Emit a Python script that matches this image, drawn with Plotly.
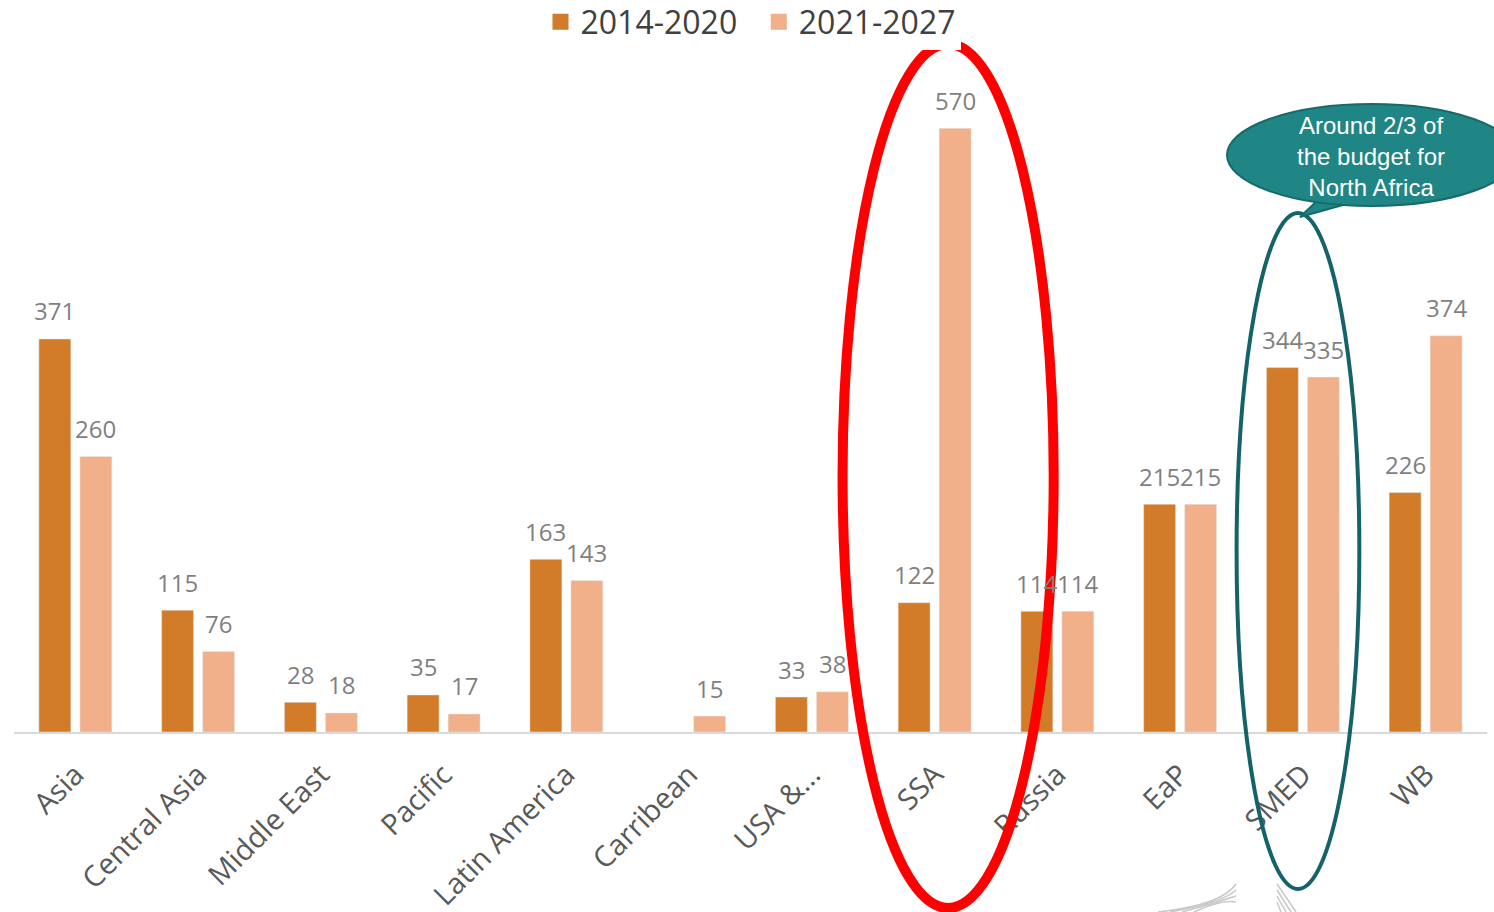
import plotly.graph_objects as go

categories = ["Asia", "Central Asia", "Middle East", "Pacific", "Latin America", "Carribean",
              "USA &...", "SSA", "Russia", "EaP", "SMED", "WB"]
series_2014_2020 = [371, 115, 28, 35, 163, None, 33, 122, 114, 215, 344, 226]
series_2021_2027 = [260, 76, 18, 17, 143, 15, 38, 570, 114, 215, 335, 374]
series_names = ["2014-2020", "2021-2027"]
colors = ["#D27B28", "#F1AF8A"]

W, H = 1494, 912
ML, MR, MT, MB = 14, 7, 54, 180
PW = W - ML - MR
PH = H - MT - MB
BARGAP, GROUPGAP = 0.332, 0.22


def px(x):
    return (x - ML) / PW


def py(y):
    return (H - MB - y) / PH


fig = go.Figure()
for name, vals, col in zip(series_names, [series_2014_2020, series_2021_2027], colors):
    fig.add_trace(go.Bar(
        x=categories, y=vals, name=name, marker_color=col, showlegend=False,
    ))
# legend entries with square markers
legend_labels = ["2014-2020\u00a0\u00a0", "2021-2027"]
for name, col in zip(legend_labels, colors):
    fig.add_trace(go.Scatter(
        x=[None], y=[None], mode="markers", name=name,
        marker=dict(symbol="square", size=20, color=col),
    ))

# value labels above each bar, placed at the bar's own category position
slot = (1 - BARGAP) / 2
annotations = []
for k, vals in enumerate([series_2014_2020, series_2021_2027]):
    off = (k - 0.5) * slot
    for i, v in enumerate(vals):
        if v is None:
            continue
        annotations.append(dict(
            xref="x", yref="y", x=i + off, y=v, text=str(v), showarrow=False,
            xanchor="center", yanchor="middle", yshift=28,
            font=dict(family="Open Sans", size=24, color="#7F7F7F"),
        ))

annotations.append(dict(
    xref="paper", yref="paper", x=px(1371), y=py(156), showarrow=False,
    text="Around 2/3 of<br>the budget for<br>North Africa",
    font=dict(family="Liberation Sans, Arial", size=24, color="white"),
    align="center", xanchor="center", yanchor="middle"))

shapes = [
    # red ellipse around SSA
    dict(type="circle", xref="x", yref="paper", x0=6.25, x1=7.97, y0=py(908), y1=py(44),
         line=dict(color="#FF0000", width=10), layer="above"),
    # teal ellipse around SMED
    dict(type="circle", xref="x", yref="paper", x0=9.46, x1=10.46, y0=py(889), y1=py(213),
         line=dict(color="#15636A", width=4), layer="above"),
    # callout tail
    dict(type="path", xref="paper", yref="paper",
         path=f"M {px(1318)} {py(200)} L {px(1300)} {py(217)} L {px(1350)} {py(203)} Z",
         fillcolor="#1F8585", line=dict(color="#176A6A", width=2), layer="above"),
    # callout bubble
    dict(type="circle", xref="paper", yref="paper", x0=px(1227), x1=px(1516), y0=py(206), y1=py(104),
         fillcolor="#1F8585", line=dict(color="#176A6A", width=2), layer="above"),
]

# faint grey decorative strokes at the bottom edge
for d in range(4):
    shapes.append(dict(
        type="path", xref="paper", yref="paper",
        path=(f"M {px(1158 + d * 12)} {py(912)} Q {px(1222)} {py(905 - d * 2)} "
              f"{px(1236)} {py(884 + d * 6)}"),
        line=dict(color="#C8C8C8", width=1.5), layer="above"))
    shapes.append(dict(
        type="path", xref="paper", yref="paper",
        path=f"M {px(1277)} {py(884 + d * 6)} L {px(1296 - d * 5)} {py(912)}",
        line=dict(color="#C8C8C8", width=1.5), layer="above"))

fig.update_layout(
    width=W, height=H,
    margin=dict(l=ML, r=MR, t=MT, b=MB, autoexpand=False),
    paper_bgcolor="white", plot_bgcolor="white",
    barmode="group", bargap=BARGAP, bargroupgap=GROUPGAP,
    showlegend=True,
    legend=dict(orientation="h", x=0.5, xanchor="center", yref="container",
                y=1 - 22 / H, yanchor="middle",
                font=dict(family="Open Sans", size=32, color="#404040"),
                itemwidth=30, traceorder="normal", itemsizing="trace"),
    xaxis=dict(tickangle=-45, tickfont=dict(family="Open Sans", size=29, color="#595959"),
               showline=True, linecolor="#D9D9D9", linewidth=2, ticks="", showgrid=False,
               automargin=False, ticklabelstandoff=12, range=[-0.5, 11.5]),
    yaxis=dict(range=[0, 640], visible=False, showgrid=False, zeroline=False),
    shapes=shapes, annotations=annotations,
)

fig.write_html("out.html", config={"displayModeBar": False},
               post_script="document.body.style.margin='0';document.body.style.overflow='hidden';")
